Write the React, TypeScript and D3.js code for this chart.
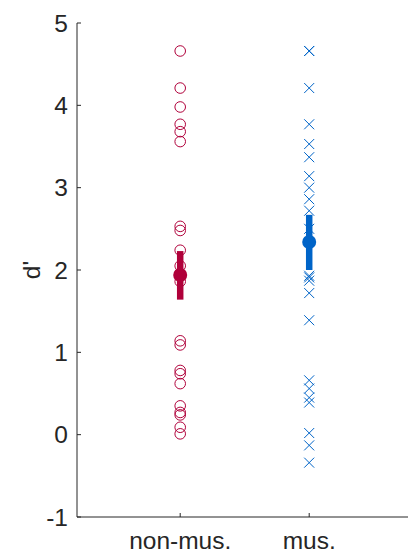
import React from "react";
import * as d3 from "d3";

const categories = ["non-mus.", "mus."];
const nonMusValues = [4.66, 4.21, 3.98, 3.77, 3.68, 3.56, 2.53, 2.48, 2.24, 2.05, 1.95, 1.86, 1.14, 1.09, 0.78, 0.74, 0.62, 0.35, 0.27, 0.24, 0.09, 0.01];
const musValues = [4.66, 4.66, 4.21, 3.77, 3.53, 3.37, 3.14, 3.0, 2.86, 2.72, 2.5, 1.91, 1.93, 1.87, 1.72, 1.39, 0.66, 0.56, 0.45, 0.39, 0.02, -0.13, -0.34];
const means = [1.94, 2.34];
const errLow = [1.64, 2.0];
const errHigh = [2.23, 2.67];
const yTicks = [-1, 0, 1, 2, 3, 4, 5];
const colors = ["#b0003a", "#0064c8"];

export default function App() {
  const W = 408, H = 554;
  const left = 77, top = 23, bottom = 517;
  const x = d3.scaleLinear().domain([0.2, 2.8]).range([left, left + 2.6 * 129]);
  const y = d3.scaleLinear().domain([-1, 5]).range([bottom, top]);
  const font = "'Liberation Sans', Arial, sans-serif";
  const axisColor = "#262626";
  const s = 5;
  return (
    <svg width={W} height={H} style={{ position: "absolute", left: 0, top: 0 }}>
      <rect x={0} y={0} width={W} height={H} fill="#fff" />
      <line x1={left} y1={top} x2={left} y2={bottom} stroke={axisColor} strokeWidth={1} />
      <line x1={left} y1={bottom} x2={W} y2={bottom} stroke={axisColor} strokeWidth={1} />
      {yTicks.map((t) => (
        <g key={t}>
          <line x1={left} x2={left + 4} y1={y(t)} y2={y(t)} stroke={axisColor} />
          <text x={68} y={y(t)} dy="0.35em" textAnchor="end" fontFamily={font} fontSize={24.5} fill={axisColor}>
            {t < 0 ? "-" + Math.abs(t) : t}
          </text>
        </g>
      ))}
      {categories.map((c, i) => (
        <g key={c}>
          <line x1={x(i + 1)} x2={x(i + 1)} y1={bottom} y2={bottom - 4} stroke={axisColor} />
          <text x={x(i + 1)} y={549} textAnchor="middle" fontFamily={font} fontSize={24.5} fill={axisColor}>
            {c}
          </text>
        </g>
      ))}
      <text transform={`translate(40,${y(2)}) rotate(-90)`} textAnchor="middle" fontFamily={font} fontSize={24.5} fill={axisColor}>
        d'
      </text>
      {nonMusValues.map((v, i) => (
        <circle key={"n" + i} cx={x(1)} cy={y(v)} r={5.3} fill="none" stroke={colors[0]} strokeWidth={1} />
      ))}
      {musValues.map((v, i) => (
        <path
          key={"m" + i}
          d={`M${x(2) - s},${y(v) - s}L${x(2) + s},${y(v) + s}M${x(2) - s},${y(v) + s}L${x(2) + s},${y(v) - s}`}
          stroke={colors[1]}
          strokeWidth={1}
          fill="none"
        />
      ))}
      {means.map((m, i) => (
        <g key={"mean" + i}>
          <line x1={x(i + 1)} x2={x(i + 1)} y1={y(errLow[i])} y2={y(errHigh[i])} stroke={colors[i]} strokeWidth={6.5} />
          <circle cx={x(i + 1)} cy={y(m)} r={7} fill={colors[i]} />
        </g>
      ))}
    </svg>
  );
}
